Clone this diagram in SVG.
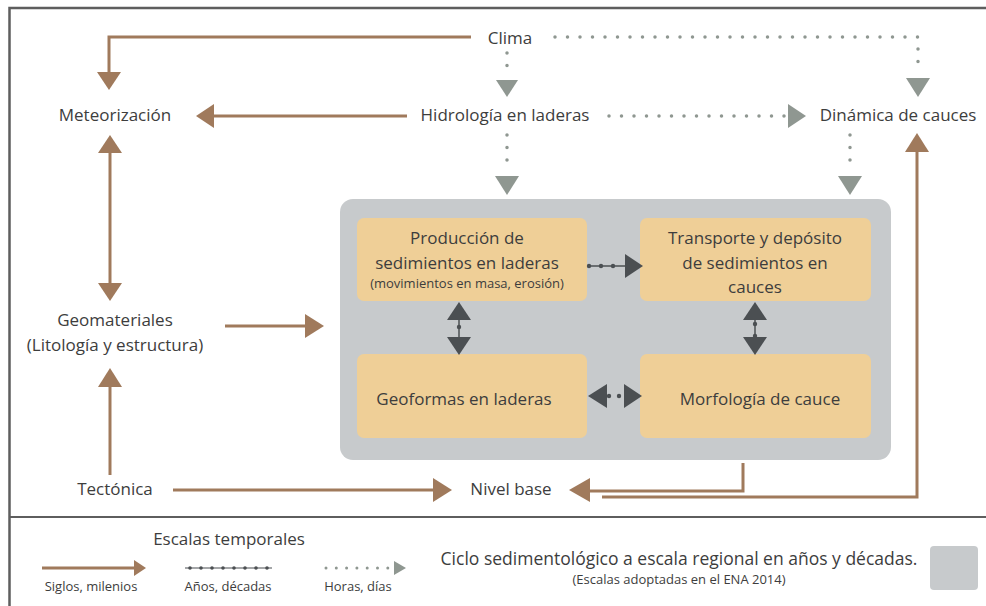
<svg xmlns="http://www.w3.org/2000/svg" width="986" height="606" viewBox="0 0 986 606">
<style>
text{font-family:"Open Sans","Noto Sans",sans-serif;fill:#3d3d3d;text-anchor:middle}
.t{font-size:17px}
.s{font-size:13px}
.l{font-size:13px}
.b{fill:none;stroke:#a07a5c;stroke-width:3}
.bh{fill:#a07a5c}
.d{fill:none;stroke:#8f9791;stroke-width:3.5;stroke-dasharray:0 12.5;stroke-linecap:round}
.dh{fill:#8f9791}
.k{fill:none;stroke:#4b4f52;stroke-width:1.5}
.kh{fill:#4b4f52}
.box{fill:#efcf97}
.frame{fill:none;stroke:#5e5e5e;stroke-width:2.5}
</style>
<rect width="986" height="606" fill="#fff"/>
<path class="frame" d="M986,8 H9.5 V606"/>
<path class="frame" d="M9,517 H986" style="stroke-width:2"/>

<g id="clima"><text class="t" x="510" y="44">Clima</text></g>
<g id="meteorizacion"><text class="t" x="115" y="121">Meteorización</text></g>
<g id="hidrologia"><text class="t" x="505" y="121">Hidrología en laderas</text></g>
<g id="dinamica"><text class="t" x="898" y="121">Dinámica de cauces</text></g>
<g id="geomateriales"><text class="t" x="115" y="326">Geomateriales</text><text class="t" x="115" y="351">(Litología y estructura)</text></g>
<g id="tectonica"><text class="t" x="115" y="495">Tectónica</text></g>
<g id="nivel"><text class="t" x="511" y="495">Nivel base</text></g>

<g id="ciclo">
<rect x="340" y="199" width="551" height="261" rx="13" fill="#c7cacc"/>
</g>
<g id="produccion">
<rect class="box" x="357" y="218" width="230" height="83" rx="7"/>
<text class="t" x="467" y="244">Producción de</text>
<text class="t" x="467" y="269">sedimientos en laderas</text>
<text class="s" x="467" y="288">(movimientos en masa, erosión)</text>
</g>
<g id="transporte">
<rect class="box" x="640" y="218" width="231" height="83" rx="7"/>
<text class="t" x="755" y="244">Transporte y depósito</text>
<text class="t" x="755" y="269">de sedimientos en</text>
<text class="t" x="755" y="293">cauces</text>
</g>
<g id="geoformas">
<rect class="box" x="357" y="354" width="230" height="84" rx="7"/>
<text class="t" x="464" y="405">Geoformas en laderas</text>
</g>
<g id="morfologia">
<rect class="box" x="640" y="354" width="231" height="84" rx="7"/>
<text class="t" x="760" y="405">Morfología de cauce</text>
</g>

<g id="connectors">
<path class="b" d="M471,37 H109 V73"/><polygon class="bh" points="97,72 121,72 109,90"/>
<path class="b" d="M407,116 H212"/><polygon class="bh" points="214,104 214,128 196,116"/>
<path class="b" d="M110,152 V284"/><polygon class="bh" points="98,153 122,153 110,135"/><polygon class="bh" points="98,283 122,283 110,301"/>
<path class="b" d="M110,475 V386"/><polygon class="bh" points="98,387 122,387 110,368"/>
<path class="b" d="M225,326 H307"/><polygon class="bh" points="305,314 305,338 324,326"/>
<path class="b" d="M173,490 H435"/><polygon class="bh" points="433,478 433,502 452,490"/>
<path class="b" d="M743,463 V491 H588"/><polygon class="bh" points="590,478 590,502 569,490"/>
<path class="b" d="M602,497 H917 V150"/><polygon class="bh" points="905,152 929,152 917,133"/>

<path class="d" d="M507,53 V78"/><polygon class="dh" points="496,80 518,80 507,97"/>
<path class="d" d="M555,37 H918 V72"/><polygon class="dh" points="906,78 930,78 918,97"/>
<path class="d" d="M609,116 H785"/><polygon class="dh" points="788,104 788,128 806,116"/>
<path class="d" d="M507,135 V170"/><polygon class="dh" points="495,176 519,176 507,195"/>
<path class="d" d="M850,135 V170"/><polygon class="dh" points="838,176 862,176 850,195"/>

<path class="k" d="M588,266 H626"/>
<circle class="kh" cx="589" cy="266" r="2.2"/><circle class="kh" cx="601" cy="266" r="2.2"/><circle class="kh" cx="613" cy="266" r="2.2"/>
<polygon class="kh" points="625,254 625,278 643,266"/>

<path class="k" d="M459,320 V337"/><circle class="kh" cx="459" cy="327" r="2.2"/>
<polygon class="kh" points="447,320 471,320 459,302"/><polygon class="kh" points="447,337 471,337 459,355"/>

<path class="k" d="M755,320 V337"/><circle class="kh" cx="755" cy="324" r="2.2"/><circle class="kh" cx="755" cy="336" r="2.2"/>
<polygon class="kh" points="743,320 767,320 755,302"/><polygon class="kh" points="743,337 767,337 755,355"/>

<polygon class="kh" points="607,384 607,408 588,396"/><polygon class="kh" points="624,384 624,408 642,396"/>
<circle class="kh" cx="609" cy="396" r="2.2"/><circle class="kh" cx="619" cy="396" r="2.2"/>
</g>

<g id="legend">
<text class="t" x="229" y="545">Escalas temporales</text>
<path class="b" d="M42,568 H136"/><polygon class="bh" points="134,560 134,576 146,568"/>
<text class="l" x="91" y="591">Siglos, milenios</text>
<path class="k" d="M185,568 H272" style="stroke-width:1.2"/>
<g class="kh">
<circle cx="190" cy="568" r="1.8"/><circle cx="201" cy="568" r="1.8"/><circle cx="212" cy="568" r="1.8"/><circle cx="223" cy="568" r="1.8"/><circle cx="234" cy="568" r="1.8"/><circle cx="245" cy="568" r="1.8"/><circle cx="256" cy="568" r="1.8"/><circle cx="267" cy="568" r="1.8"/>
</g>
<text class="l" x="228" y="591">Años, décadas</text>
<path class="d" d="M326,568 H388" style="stroke-dasharray:0 10.3;stroke-width:3"/><polygon class="dh" points="394,561 394,575 406,568"/>
<text class="l" x="358" y="591">Horas, días</text>
<text class="t" x="679" y="565" style="font-size:17.5px">Ciclo sedimentológico a escala regional en años y décadas.</text>
<text class="s" x="679" y="584">(Escalas adoptadas en el ENA 2014)</text>
<rect x="930" y="546" width="48" height="44" rx="4" fill="#c7cacc"/>
</g>
</svg>
